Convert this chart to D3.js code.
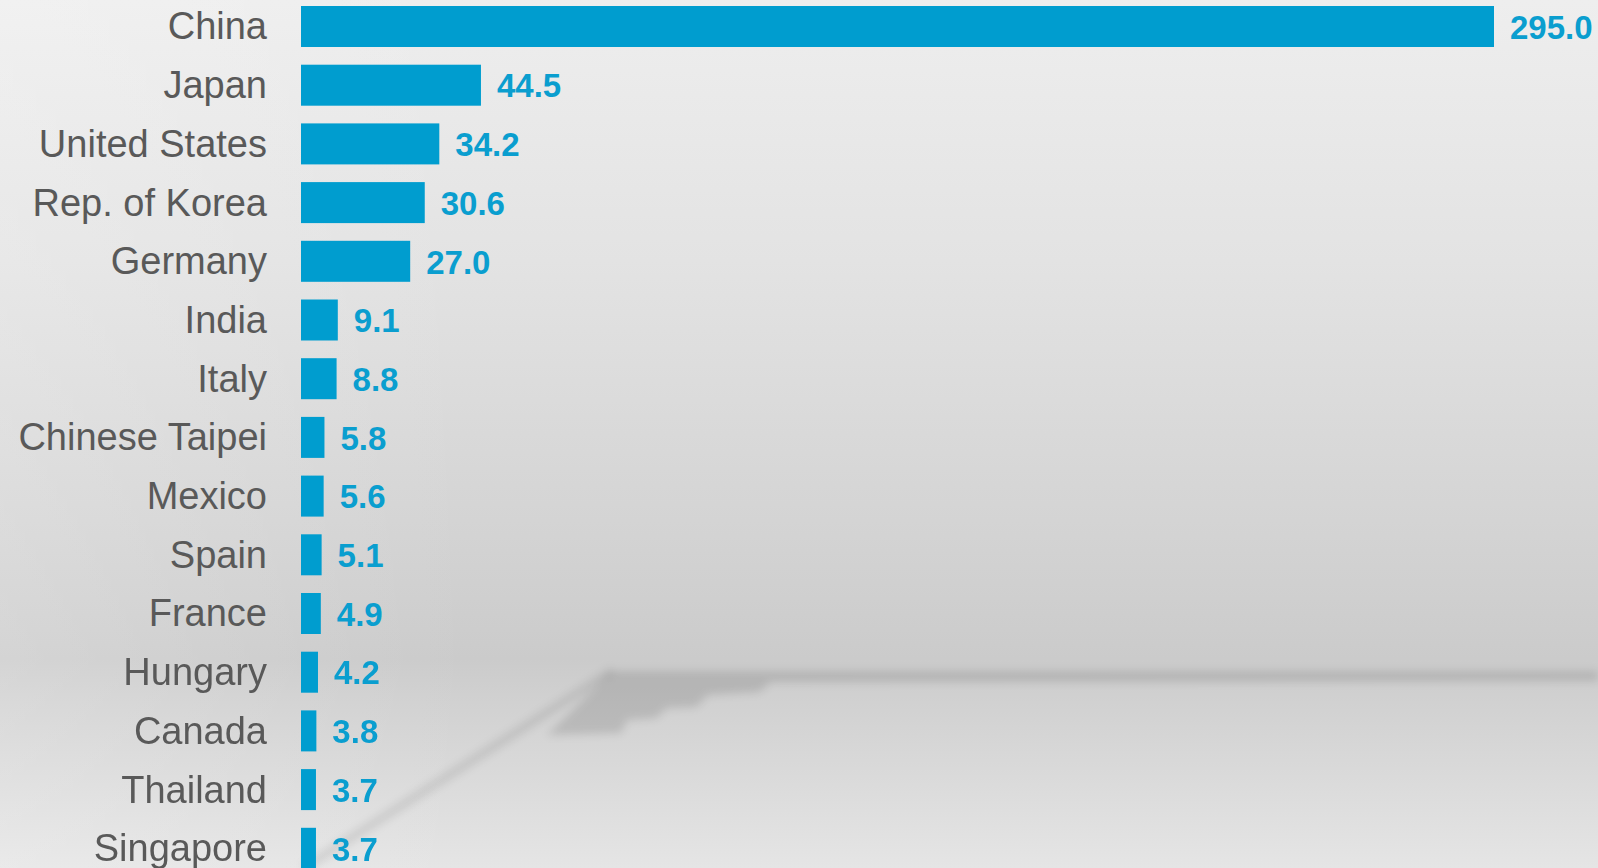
<!DOCTYPE html>
<html>
<head>
<meta charset="utf-8">
<script src="https://cdn.jsdelivr.net/npm/d3@7"></script>
<style>
  html, body { margin: 0; padding: 0; overflow: hidden; }
  svg { display: block; }
</style>
</head>
<body>
<svg id="chart"></svg>
<script>
const countries = ["China", "Japan", "United States", "Rep. of Korea", "Germany", "India", "Italy",
  "Chinese Taipei", "Mexico", "Spain", "France", "Hungary", "Canada", "Thailand", "Singapore"];
const values = [295.0, 44.5, 34.2, 30.6, 27.0, 9.1, 8.8, 5.8, 5.6, 5.1, 4.9, 4.2, 3.8, 3.7, 3.7];

const width = 1598, height = 868;
const barColor = "#009dcf";

const svg = d3.select("#chart")
    .attr("width", width)
    .attr("height", height);

const defs = svg.append("defs");

// background gradient (light top, darker towards the "horizon", lighter floor)
const bg = defs.append("linearGradient")
    .attr("id", "bg")
    .attr("x1", 0).attr("y1", 0).attr("x2", 0).attr("y2", 1);
[[0, "#eeeeee"], [0.3, "#e3e3e3"], [0.6, "#d4d4d4"], [0.76, "#cbcbcb"],
 [0.8, "#d0d0d0"], [1, "#e5e5e5"]].forEach(s => {
    bg.append("stop").attr("offset", s[0]).attr("stop-color", s[1]);
});

const side = defs.append("linearGradient")
    .attr("id", "side")
    .attr("x1", 0).attr("y1", 0).attr("x2", 1).attr("y2", 0);
side.append("stop").attr("offset", 0).attr("stop-color", "#fff").attr("stop-opacity", 0.18);
side.append("stop").attr("offset", 0.3).attr("stop-color", "#fff").attr("stop-opacity", 0);

defs.append("filter").attr("id", "blur")
    .attr("x", "-10%").attr("y", "-10%").attr("width", "120%").attr("height", "120%")
  .append("feGaussianBlur").attr("stdDeviation", 4);

svg.append("rect").attr("width", width).attr("height", height).attr("fill", "url(#bg)");
svg.append("rect").attr("width", width).attr("height", height).attr("fill", "url(#side)");

// soft shadow of the floor edge
const shadow = svg.append("g").attr("filter", "url(#blur)");
shadow.append("path")
    .attr("d", "M612,671 L1598,671 L1598,681 L771,682 L759,692 L708,695 L696,707 L667,708 L656,718 L627,720 L621,733 L547,735 Z")
    .attr("fill", "#000").attr("opacity", 0.12);
shadow.append("path")
    .attr("d", "M304,868 L612,671")
    .attr("stroke", "#000").attr("stroke-width", 8).attr("opacity", 0.1).attr("fill", "none");

// scales
const x = d3.scaleLinear()
    .domain([0, 295])
    .range([301, 1494]);

const step = 58.7;
const y = d3.scaleBand()
    .domain(countries)
    .range([26.5 - step / 2, 26.5 - step / 2 + step * countries.length])
    .padding(0);

const barH = 41;
const rows = svg.append("g")
  .selectAll("g")
  .data(countries)
  .join("g")
    .attr("transform", d => `translate(0,${y(d) + y.bandwidth() / 2})`);

rows.append("rect")
    .attr("x", x(0))
    .attr("y", -barH / 2)
    .attr("width", (d, i) => x(values[i]) - x(0))
    .attr("height", barH)
    .attr("fill", barColor);

rows.append("text")
    .attr("x", 267)
    .attr("dy", "0.34em")
    .attr("text-anchor", "end")
    .style("font-family", "'Liberation Sans', Arial, sans-serif")
    .style("font-size", "38px")
    .attr("fill", "#595959")
    .text(d => d);

rows.append("text")
    .attr("x", (d, i) => x(values[i]) + 16)
    .attr("dy", "0.37em")
    .style("font-family", "'Liberation Sans', Arial, sans-serif")
    .style("font-size", "33px")
    .style("font-weight", "bold")
    .attr("fill", "#0a9ecf")
    .text((d, i) => values[i].toFixed(1));
</script>
</body>
</html>
